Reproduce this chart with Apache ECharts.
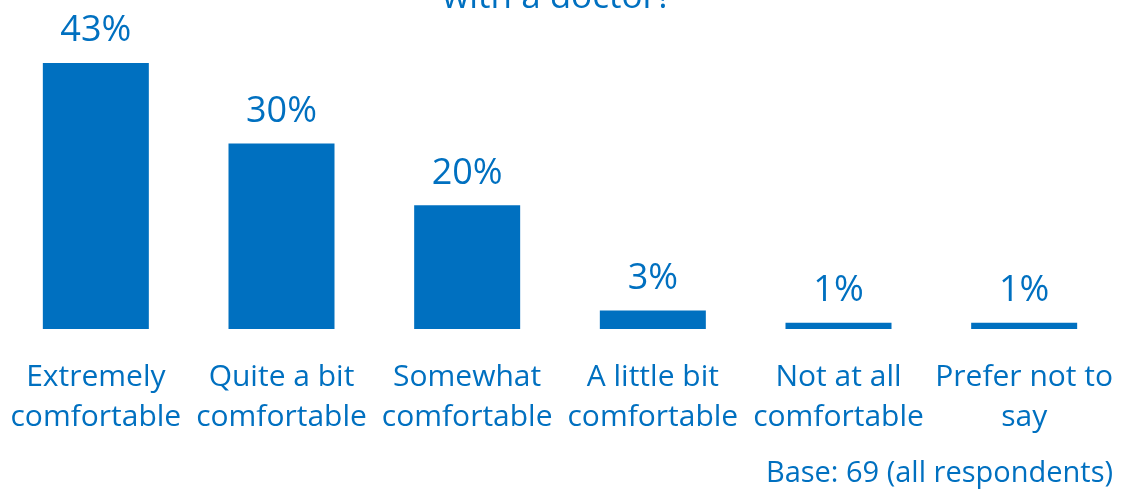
<!DOCTYPE html>
<html>
<head>
<meta charset="utf-8">
<script src="https://cdn.jsdelivr.net/npm/echarts@6/dist/echarts.min.js"></script>
<style>
  html, body { margin: 0; padding: 0; background: #fff; }
  #chart { width: 1137px; height: 490px; }
</style>
</head>
<body>
<div id="chart"></div>
<script>
// data
const categories = [
  'Extremely\ncomfortable',
  'Quite a bit\ncomfortable',
  'Somewhat\ncomfortable',
  'A little bit\ncomfortable',
  'Not at all\ncomfortable',
  'Prefer not to\nsay'
];
const shares = [43, 30, 20, 3, 1, 1];

const blue = '#0070C0';
const font = '"Open Sans", "Noto Sans", sans-serif';

const chart = echarts.init(document.getElementById('chart'));
chart.setOption({
  animation: false,
  textStyle: { fontFamily: font },
  graphic: [
    {
      // second line of the title; the first line sits above the crop
      type: 'text',
      x: 557,
      y: 16,
      style: {
        text: 'with a doctor?',
        fill: blue,
        font: '35px ' + font,
        align: 'center',
        verticalAlign: 'bottom'
      }
    },
    {
      type: 'text',
      right: 24,
      top: 459,
      style: { text: 'Base: 69 (all respondents)', fill: blue, font: '29px ' + font }
    }
  ],
  grid: { left: 3, right: 20, top: 63, bottom: 161 },
  xAxis: {
    type: 'category',
    data: categories,
    axisLine: { show: false },
    axisTick: { show: false },
    axisLabel: {
      interval: 0,
      margin: 28,
      color: blue,
      fontSize: 30,
      lineHeight: 40,
      fontFamily: font
    }
  },
  yAxis: {
    type: 'value',
    min: 0,
    max: 43,
    show: false,
    splitLine: { show: false }
  },
  series: [{
    type: 'bar',
    data: shares,
    barWidth: 106,
    itemStyle: { color: blue },
    label: {
      show: true,
      position: 'top',
      distance: 14,
      formatter: '{c}%',
      color: blue,
      fontSize: 36,
      fontFamily: font
    }
  }]
});
</script>
</body>
</html>
